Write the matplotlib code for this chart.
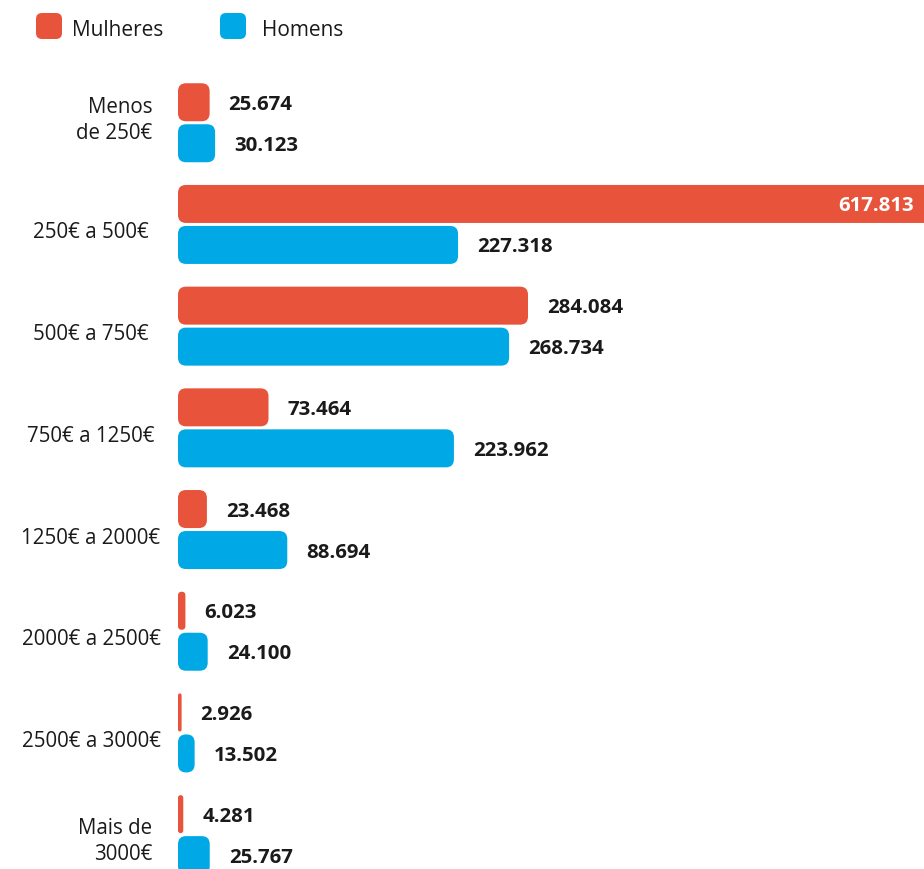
import matplotlib
matplotlib.use('Agg')
import matplotlib.pyplot as plt
from matplotlib.patches import FancyBboxPatch
import matplotlib.transforms as mtransforms

plt.rcParams['font.family'] = ['Open Sans', 'DejaVu Sans']

categories = ["Menos\nde 250€", "250€ a 500€", "500€ a 750€", "750€ a 1250€",
              "1250€ a 2000€", "2000€ a 2500€", "2500€ a 3000€", "Mais de\n3000€"]
mulheres = [25674, 617813, 284084, 73464, 23468, 6023, 2926, 4281]
homens = [30123, 227318, 268734, 223962, 88694, 24100, 13502, 25767]
series_names = ["Mulheres", "Homens"]
colors = ["#E8543B", "#00A9E6"]
text_color = "#1a1a1a"


def fmt(v):
    return f"{v:,}".replace(",", ".")


W, H = 924, 870
PT = 0.72  # points per pixel at dpi 100
fig = plt.figure(figsize=(W / 100, H / 100), dpi=100)
left_px = 178
ax = fig.add_axes([left_px / W, 0, 1 - left_px / W, 1])
XMAX = 605500
YTOP, YBOT = -1.2168, 7.338
ax.set_xlim(0, XMAX)
ax.set_ylim(YBOT, YTOP)

xpx = XMAX / (W - left_px)          # data units per pixel (x)
ypx = (YBOT - YTOP) / H              # data units per pixel (y)
bar_h = 38 * ypx
offsets = [-20.5 * ypx, 20.5 * ypx]

for j, (vals, col) in enumerate(zip([mulheres, homens], colors)):
    for i, v in enumerate(vals):
        yc = i + offsets[j]
        r = min(8 * xpx, v / 2)
        p = FancyBboxPatch((0, yc - bar_h / 2), v, bar_h,
                           boxstyle=f"round,pad=0,rounding_size={r}",
                           mutation_aspect=ypx / xpx,
                           facecolor=col, edgecolor='none')
        ax.add_patch(p)
        if v > XMAX:
            ax.annotate(fmt(v), xy=(1, yc), xycoords=('axes fraction', 'data'),
                        xytext=(-10 * PT, -1.5 * PT), textcoords='offset points',
                        ha='right', va='center', fontsize=14.7,
                        fontweight='bold', color='white')
        else:
            ax.annotate(fmt(v), xy=(v, yc), xytext=(19 * PT, -1.5 * PT),
                        textcoords='offset points', ha='left', va='center',
                        fontsize=14.7, fontweight='bold', color=text_color)

# category labels
multi_dy = {0: 3, len(categories) - 1: -6}
for i, cat in enumerate(categories):
    if "\n" in cat:
        ax.annotate(cat, xy=(0, i), xycoords=('axes fraction', 'data'),
                    xytext=((152 - left_px) * PT, multi_dy.get(i, 0) * PT),
                    textcoords='offset points',
                    ha='right', va='center', multialignment='right',
                    linespacing=1.3, fontsize=14.8, color=text_color)
    else:
        ax.annotate(cat, xy=(0, i), xycoords=('axes fraction', 'data'),
                    xytext=((91 - left_px) * PT, -7.5 * PT), textcoords='offset points',
                    ha='center', va='center', fontsize=14.8, color=text_color)

ax.set_xticks([])
ax.set_yticks([])
for s in ax.spines.values():
    s.set_visible(False)

# legend drawn in pixel coordinates
tr = mtransforms.Affine2D().scale(1 / W, -1 / H).translate(0, 1) + fig.transFigure
leg = [(36, 72), (220, 262)]
for (bx, tx), name, col in zip(leg, series_names, colors):
    fig.patches.append(FancyBboxPatch((bx, 14), 26, 26,
                                      boxstyle="round,pad=0,rounding_size=6",
                                      facecolor=col, edgecolor='none',
                                      transform=tr, figure=fig))
    fig.text(tx / W, 1 - 30 / H, name, ha='left', va='center',
             fontsize=15, color=text_color)

fig.savefig("out.png", dpi=100)
